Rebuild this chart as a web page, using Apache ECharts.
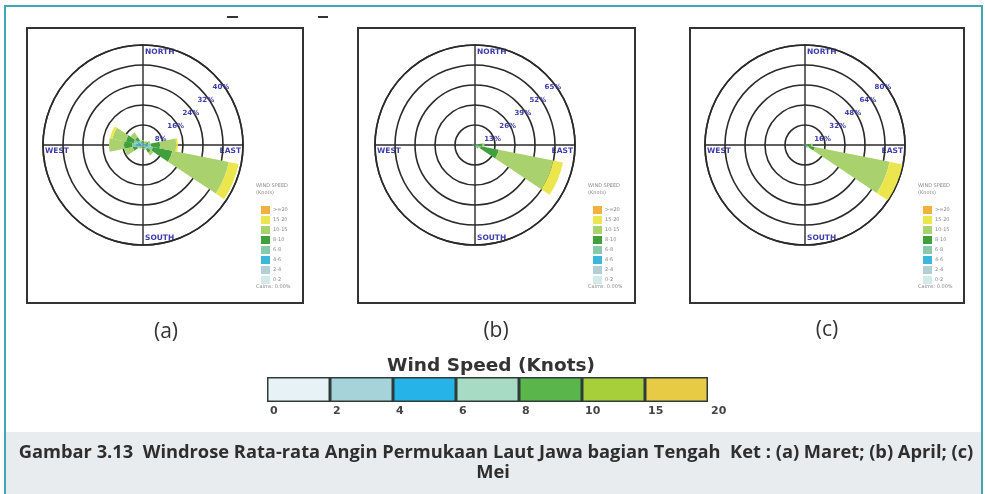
<!DOCTYPE html>
<html>
<head>
<meta charset="utf-8">
<script src="https://cdn.jsdelivr.net/npm/echarts@6/dist/echarts.min.js"></script>
<style>
html, body { margin: 0; padding: 0; background: #fff; }
#chart { width: 985px; height: 494px; }
</style>
</head>
<body>
<div id="chart"></div>
<script>
// wind directions (16 sectors) and speed classes (knots)
var directions = ['N', 'NNE', 'NE', 'ENE', 'E', 'ESE', 'SE', 'SSE', 'S', 'SSW', 'SW', 'WSW', 'W', 'WNW', 'NW', 'NNW'];
var speedBins = ['0-2', '2-4', '4-6', '6-8', '8-10', '10-15', '15-20', '>=20'];
var binColors = ['#d3eaeb', '#b3cfd6', '#3db6dc', '#88c9ab', '#40a03d', '#a9d16d', '#ebe54e', '#f0b23c'];

// frequency (%) per speed class, one row per class, columns follow directions
var maret = [
	[0.1, 0.1, 0.1, 0.1, 0.3, 0.3, 0.2, 0.1, 0.1, 0.1, 0.1, 0.2, 0.3, 0.3, 0.2, 0.1],
	[0.2, 0.2, 0.2, 0.3, 0.5, 0.7, 0.4, 0.2, 0.2, 0.2, 0.2, 0.4, 0.8, 0.7, 0.4, 0.2],
	[0.3, 0.2, 0.3, 0.4, 1.0, 1.0, 0.6, 0.3, 0.3, 0.3, 0.3, 0.8, 1.5, 1.2, 0.6, 0.3],
	[0.4, 0.3, 0.4, 0.6, 1.5, 2.0, 1.0, 0.4, 0.3, 0.3, 0.4, 1.0, 1.8, 1.6, 1.0, 0.4],
	[0.5, 0.4, 0.5, 0.8, 3.5, 8.0, 1.5, 0.5, 0.3, 0.3, 0.5, 1.8, 3.2, 3.2, 1.6, 0.5],
	[0.5, 0.3, 0.5, 0.8, 6.5, 23.0, 1.3, 0.5, 0.3, 0.3, 0.5, 3.3, 6.0, 5.5, 2.2, 0.5],
	[0, 0, 0, 0, 0.7, 4.0, 0, 0, 0, 0, 0, 0, 0, 1.0, 0, 0],
	[0, 0, 0, 0, 0, 0, 0, 0, 0, 0, 0, 0, 0, 0, 0, 0]
];
var april = [
	[0.05, 0.05, 0.05, 0.1, 0.2, 0.3, 0.2, 0.05, 0.05, 0.05, 0.05, 0.05, 0.1, 0.1, 0.05, 0.05],
	[0.1, 0.1, 0.1, 0.1, 0.4, 0.5, 0.3, 0.1, 0.1, 0.1, 0.1, 0.1, 0.2, 0.2, 0.1, 0.1],
	[0.1, 0.1, 0.1, 0.2, 0.6, 1.0, 0.4, 0.1, 0.1, 0.1, 0.1, 0.2, 0.3, 0.3, 0.1, 0.1],
	[0.1, 0.1, 0.1, 0.3, 1.0, 2.0, 0.6, 0.2, 0.1, 0.1, 0.1, 0.2, 0.4, 0.4, 0.2, 0.1],
	[0.1, 0.1, 0.2, 0.5, 2.5, 12.0, 1.0, 0.2, 0.1, 0.1, 0.1, 0.3, 0.5, 0.5, 0.2, 0.1],
	[0, 0, 0.1, 0.3, 1.5, 36.0, 0.5, 0.1, 0, 0, 0, 0.1, 0.3, 0.3, 0.1, 0],
	[0, 0, 0, 0, 0, 6.5, 0, 0, 0, 0, 0, 0, 0, 0, 0, 0],
	[0, 0, 0, 0, 0, 0, 0, 0, 0, 0, 0, 0, 0, 0, 0, 0]
];
var mei = [
	[0.05, 0.05, 0.05, 0.1, 0.2, 0.3, 0.2, 0.05, 0.05, 0.05, 0.05, 0.05, 0.1, 0.1, 0.05, 0.05],
	[0.1, 0.1, 0.1, 0.1, 0.4, 0.5, 0.3, 0.1, 0.1, 0.1, 0.1, 0.1, 0.2, 0.2, 0.1, 0.1],
	[0.1, 0.1, 0.1, 0.2, 0.6, 0.8, 0.4, 0.1, 0.1, 0.1, 0.1, 0.2, 0.3, 0.3, 0.1, 0.1],
	[0.1, 0.1, 0.1, 0.3, 1.0, 1.4, 0.6, 0.2, 0.1, 0.1, 0.1, 0.2, 0.4, 0.4, 0.2, 0.1],
	[0.1, 0.1, 0.2, 0.5, 2.5, 5.0, 1.0, 0.2, 0.1, 0.1, 0.1, 0.3, 0.5, 0.5, 0.2, 0.1],
	[0, 0, 0.1, 0.3, 1.5, 61.0, 0.5, 0.1, 0, 0, 0, 0.1, 0.3, 0.3, 0.1, 0],
	[0, 0, 0, 0, 0, 10.5, 0, 0, 0, 0, 0, 0, 0, 0, 0, 0],
	[0, 0, 0, 0, 0, 0, 0, 0, 0, 0, 0, 0, 0, 0, 0, 0]
];
var roseData = [maret, april, mei];
var ringMax = [40, 65, 80];
var ringStep = [8, 13, 16];
var calms = ['Calms: 0.00%', 'Calms: 0.00%', 'Calms: 0.00%'];
var panelLabels = ['(a)', '(b)', '(c)'];

// colour bar (knots)
var barTicks = ['0', '2', '4', '6', '8', '10', '15', '20'];
var barColors = ['#e7f2f7', '#a6d3d9', '#25b3e8', '#a7dbc3', '#5ab64a', '#a6cf3a', '#e8cb45'];

// layout
var centers = [[143, 145], [475, 145], [805, 145]];
var R = 100;
var boxes = [[27, 28, 303, 303], [358, 28, 635, 303], [690, 28, 964, 303]];
var labelPos = [[166, 332], [496, 331], [827, 330]];
var blue = '#3d3daa';
var ink = '#2a2a2a';

var chart = echarts.init(document.getElementById('chart'));

var polar = [], angleAxis = [], radiusAxis = [], series = [], legend = [], graphic = [];

// main rose polars
centers.forEach(function (c, p) {
	polar.push({ center: c, radius: R });
	angleAxis.push({
		polarIndex: p, type: 'category', data: directions, startAngle: 90 + 11.25,
		axisLine: { lineStyle: { color: ink, width: 1.6 } },
		axisTick: { show: false }, axisLabel: { show: false }, splitLine: { show: false }
	});
	radiusAxis.push({
		polarIndex: p, type: 'value', min: 0, max: ringMax[p], interval: ringStep[p],
		axisLine: { show: false }, axisTick: { show: false }, axisLabel: { show: false },
		splitLine: { show: true, lineStyle: { color: ink, width: 1.6 } }
	});
});
// cross hair polars
centers.forEach(function (c, p) {
	polar.push({ center: c, radius: R });
	angleAxis.push({
		polarIndex: 3 + p, type: 'value', min: 0, max: 360, interval: 90, startAngle: 90,
		axisLine: { show: false }, axisTick: { show: false }, axisLabel: { show: false },
		splitLine: { show: true, lineStyle: { color: ink, width: 1.4 } }
	});
	radiusAxis.push({
		polarIndex: 3 + p, type: 'value', min: 0, max: 1,
		axisLine: { show: false }, axisTick: { show: false }, axisLabel: { show: false },
		splitLine: { show: false }
	});
});
// ring label polars
centers.forEach(function (c, p) {
	polar.push({ center: [c[0] + 2.5, c[1]], radius: R });
	angleAxis.push({
		polarIndex: 6 + p, type: 'value', min: 0, max: 360, startAngle: 41, show: false
	});
	radiusAxis.push({
		polarIndex: 6 + p, type: 'value', min: 0, max: ringMax[p], interval: ringStep[p],
		axisLine: { show: false }, axisTick: { show: false }, splitLine: { show: false },
		axisLabel: {
			show: true, margin: 0, color: blue, fontSize: 7, fontWeight: 'bold',
			fontFamily: 'DejaVu Sans', align: 'center', verticalAlign: 'top',
			padding: [4, 0, 0, 0],
			formatter: function (v) { return v === 0 ? '' : v + '%'; }
		}
	});
});

roseData.forEach(function (rows, p) {
	rows.forEach(function (vals, b) {
		series.push({
			type: 'bar', coordinateSystem: 'polar', polarIndex: p,
			name: speedBins[b], stack: 'rose' + p, data: vals,
			barCategoryGap: '0%', itemStyle: { color: binColors[b] },
			silent: true
		});
	});
	legend.push({
		data: speedBins.slice().reverse(), orient: 'vertical',
		left: centers[p][0] + 113, top: 201,
		itemWidth: 9, itemHeight: 8, itemGap: 2, icon: 'rect',
		selectedMode: false,
		textStyle: { fontSize: 5, color: '#888', fontFamily: 'DejaVu Sans', padding: [0, 0, 0, -2] }
	});
});

// colour bar
series.push({
	type: 'bar', xAxisIndex: 0, yAxisIndex: 0, barWidth: '100%', silent: true,
	data: barColors.map(function (col) {
		return { value: 1, itemStyle: { color: col, borderColor: '#2f3b3b', borderWidth: 1.5 } };
	})
});

// frames and texts
graphic.push({ type: 'rect', shape: { x: 6, y: 432, width: 976, height: 70 }, style: { fill: '#e9ecee' }, z: -5 });
graphic.push({ type: 'rect', shape: { x: 5, y: 6, width: 977, height: 500 }, style: { fill: 'none', stroke: '#3fa7b6', lineWidth: 2 } });
graphic.push({ type: 'rect', shape: { x: 227, y: 16, width: 11, height: 2 }, style: { fill: '#333' } });
graphic.push({ type: 'rect', shape: { x: 318, y: 16, width: 10, height: 2 }, style: { fill: '#333' } });
boxes.forEach(function (bx, p) {
	var c = centers[p];
	graphic.push({ type: 'rect', shape: { x: bx[0], y: bx[1], width: bx[2] - bx[0], height: bx[3] - bx[1] },
		style: { fill: 'none', stroke: '#333', lineWidth: 2 } });
	var dirFont = { fill: blue, fontSize: 7.5, fontWeight: 'bold', fontFamily: 'DejaVu Sans' };
	graphic.push({ type: 'text', x: c[0] + 2, y: c[1] - R + 3, style: Object.assign({ text: 'NORTH', textAlign: 'left', textVerticalAlign: 'top' }, dirFont) });
	graphic.push({ type: 'text', x: c[0] + 2, y: c[1] + R - 3, style: Object.assign({ text: 'SOUTH', textAlign: 'left', textVerticalAlign: 'bottom' }, dirFont) });
	graphic.push({ type: 'text', x: c[0] - R + 2, y: c[1] + 2, style: Object.assign({ text: 'WEST', textAlign: 'left', textVerticalAlign: 'top' }, dirFont) });
	graphic.push({ type: 'text', x: c[0] + R - 2, y: c[1] + 2, style: Object.assign({ text: 'EAST', textAlign: 'right', textVerticalAlign: 'top' }, dirFont) });
	graphic.push({ type: 'text', x: c[0] + 113, y: 182, style: { text: 'WIND SPEED\n(Knots)', fill: '#888', fontSize: 5, lineHeight: 7, fontFamily: 'DejaVu Sans' } });
	graphic.push({ type: 'text', x: c[0] + 113, y: 284, style: { text: calms[p], fill: '#888', fontSize: 5, fontFamily: 'DejaVu Sans' } });
	graphic.push({ type: 'text', x: labelPos[p][0], y: labelPos[p][1],
		style: { text: panelLabels[p], textAlign: 'center', textVerticalAlign: 'middle', fill: '#333', fontSize: 21, fontFamily: 'Open Sans' } });
});
graphic.push({ type: 'text', x: 491, y: 366, style: { text: 'Wind Speed (Knots)', textAlign: 'center', textVerticalAlign: 'middle', fill: '#333', fontSize: 18.5, fontWeight: 'bold', fontFamily: 'DejaVu Sans' } });
var capFont = { fill: '#2e2e2e', fontSize: 18.3, fontWeight: 'bold', fontFamily: 'Open Sans', textAlign: 'center', textVerticalAlign: 'middle' };
graphic.push({ type: 'text', x: 496, y: 453, z: 5, style: Object.assign({ text: 'Gambar 3.13  Windrose Rata-rata Angin Permukaan Laut Jawa bagian Tengah  Ket : (a) Maret; (b) April; (c)' }, capFont) });
graphic.push({ type: 'text', x: 493, y: 473, z: 5, style: Object.assign({ text: 'Mei' }, capFont) });

var option = {
	animation: false,
	polar: polar,
	angleAxis: angleAxis,
	radiusAxis: radiusAxis,
	legend: legend,
	grid: [{ left: 267, width: 441, top: 377, height: 25 }],
	xAxis: [{
		type: 'category', data: barColors.map(function (c, i) { return i; }), show: false
	}, {
		type: 'value', min: 0, max: 7, interval: 1, position: 'bottom',
		axisLine: { show: false }, axisTick: { show: false }, splitLine: { show: false },
		axisLabel: {
			margin: 4, color: '#444', fontSize: 11, fontWeight: 'bold', fontFamily: 'DejaVu Sans',
			align: 'left', padding: [0, 0, 0, 3],
			formatter: function (v) { return barTicks[v]; }
		}
	}],
	yAxis: [{ type: 'value', min: 0, max: 1, show: false }],
	series: series,
	graphic: graphic
};
chart.setOption(option);
</script>
</body>
</html>
